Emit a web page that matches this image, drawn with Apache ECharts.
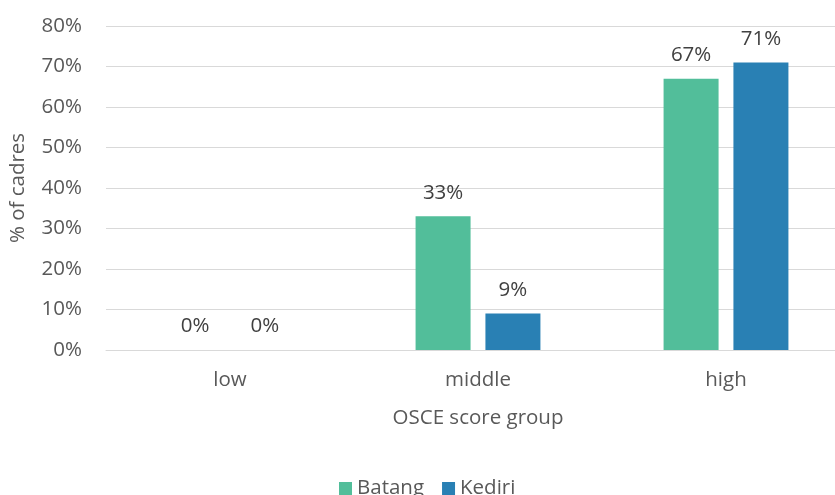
<!DOCTYPE html>
<html>
<head>
<meta charset="utf-8">
<style>
  html, body { margin: 0; padding: 0; background: #ffffff; overflow: hidden; }
  /* plot area runs slightly past the right edge of the view */
  #chart { width: 850px; height: 495px; }
</style>
<script src="https://cdn.jsdelivr.net/npm/echarts@6/dist/echarts.min.js"></script>
</head>
<body>
<div id="chart"></div>
<script>
// OSCE score groups and share of cadres per district (percent)
const categories = ['low', 'middle', 'high'];
const batang = [0, 33, 67];
const kediri = [0, 9, 71];
const yTicks = [0, 10, 20, 30, 40, 50, 60, 70, 80];

const FONT = '"Open Sans", Lato, sans-serif';
const FS = 20.5;

const chart = echarts.init(document.getElementById('chart'));

const labelStyle = {
  show: true,
  position: 'top',
  distance: 13,
  formatter: p => p.value + '%',
  color: '#404040',
  fontSize: FS,
  fontFamily: FONT
};

chart.setOption({
  animation: false,
  textStyle: { fontFamily: FONT },
  grid: { left: 106, top: 26, right: 0, bottom: 145, containLabel: false },
  legend: {
    top: 473,
    left: 334,
    itemWidth: 13,
    itemHeight: 13,
    itemGap: 18,
    icon: 'rect',
    textStyle: { color: '#595959', fontSize: FS, fontFamily: FONT, padding: [0, 0, 0, 0] },
    data: ['Batang', 'Kediri']
  },
  xAxis: {
    type: 'category',
    data: categories,
    name: 'OSCE score group',
    nameLocation: 'middle',
    nameGap: 58,
    nameTextStyle: { color: '#595959', fontSize: FS, fontFamily: FONT },
    axisLine: { lineStyle: { color: '#d9d9d9', width: 1 } },
    axisTick: { show: false },
    axisLabel: { color: '#595959', fontSize: FS, margin: 20, fontFamily: FONT }
  },
  yAxis: {
    type: 'value',
    min: yTicks[0],
    max: yTicks[yTicks.length - 1],
    interval: 10,
    name: '% of cadres',
    nameLocation: 'middle',
    nameGap: 77,
    nameTextStyle: { color: '#595959', fontSize: FS, fontFamily: FONT },
    axisLine: { show: false },
    axisTick: { show: false },
    splitLine: { lineStyle: { color: '#d9d9d9', width: 1 } },
    axisLabel: { color: '#595959', fontSize: FS, margin: 24, fontFamily: FONT, formatter: v => v + '%' }
  },
  series: [
    {
      name: 'Batang',
      type: 'bar',
      data: batang,
      barWidth: 55,
      barGap: '27%',
      itemStyle: { color: '#52be9a' },
      label: labelStyle
    },
    {
      name: 'Kediri',
      type: 'bar',
      data: kediri,
      barWidth: 55,
      barGap: '27%',
      itemStyle: { color: '#2980b4' },
      label: labelStyle
    }
  ]
});
</script>
</body>
</html>
